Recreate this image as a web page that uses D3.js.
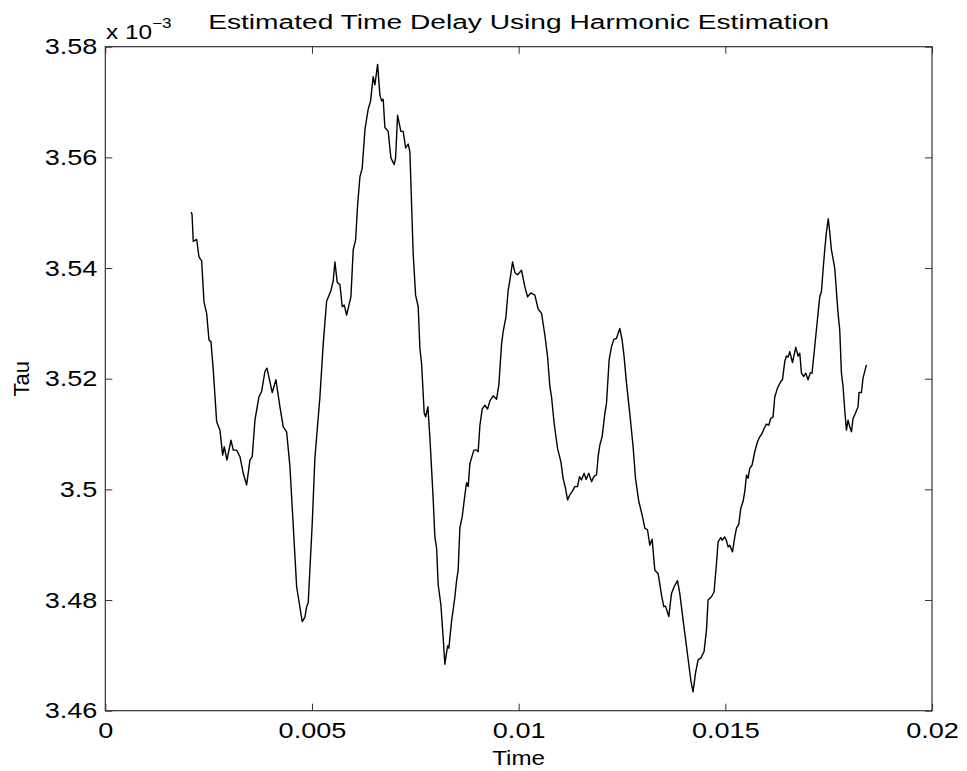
<!DOCTYPE html>
<html>
<head>
<meta charset="utf-8">
<script src="https://cdn.jsdelivr.net/npm/d3@7"></script>
<style>
  body { margin: 0; background: #fff; }
  svg text { font-family: "Liberation Sans", Arial, Helvetica, sans-serif; fill: #000; }
</style>
</head>
<body>
<svg id="chart"></svg>
<script>
// time (s)
const time = [
  0.002073, 0.002097, 0.002109, 0.002128, 0.002210, 0.002266, 0.002331, 0.002387, 0.002452, 0.002508,
  0.002556, 0.002612, 0.002694, 0.002774, 0.002839, 0.002878, 0.002943, 0.003040, 0.003096, 0.003178,
  0.003258, 0.003337, 0.003420, 0.003499, 0.003555, 0.003620, 0.003717, 0.003782, 0.003862, 0.003911,
  0.004039, 0.004128, 0.004225, 0.004305, 0.004387, 0.004467, 0.004629, 0.004764, 0.004830, 0.004871,
  0.004909, 0.005006, 0.005071, 0.005192, 0.005272, 0.005354, 0.005458, 0.005514, 0.005555, 0.005611,
  0.005676, 0.005732, 0.005780, 0.005838, 0.005942, 0.005998, 0.006056, 0.006104, 0.006160, 0.006215,
  0.006281, 0.006360, 0.006418, 0.006481, 0.006522, 0.006588, 0.006643, 0.006684, 0.006723, 0.006764,
  0.006844, 0.006909, 0.006989, 0.007023, 0.007071, 0.007151, 0.007207, 0.007265, 0.007328, 0.007369,
  0.007410, 0.007449, 0.007507, 0.007570, 0.007611, 0.007652, 0.007715, 0.007749, 0.007804, 0.007853,
  0.007932, 0.007973, 0.008015, 0.008053, 0.008119, 0.008174, 0.008215, 0.008281, 0.008312, 0.008377,
  0.008457, 0.008498, 0.008537, 0.008578, 0.008634, 0.008699, 0.008740, 0.008779, 0.008820, 0.008861,
  0.008917, 0.008982, 0.009021, 0.009062, 0.009117, 0.009183, 0.009248, 0.009304, 0.009383, 0.009466,
  0.009521, 0.009587, 0.009625, 0.009691, 0.009746, 0.009794, 0.009853, 0.009908, 0.009973, 0.010070,
  0.010150, 0.010215, 0.010295, 0.010392, 0.010472, 0.010554, 0.010634, 0.010699, 0.010755, 0.010796,
  0.010859, 0.010941, 0.011021, 0.011076, 0.011134, 0.011183, 0.011238, 0.011294, 0.011359, 0.011424,
  0.011473, 0.011521, 0.011584, 0.011632, 0.011698, 0.011763, 0.011826, 0.011884, 0.011923, 0.011964,
  0.012019, 0.012085, 0.012126, 0.012189, 0.012247, 0.012302, 0.012368, 0.012447, 0.012503, 0.012551,
  0.012609, 0.012689, 0.012769, 0.012827, 0.012907, 0.012987, 0.013052, 0.013117, 0.013173, 0.013229,
  0.013294, 0.013374, 0.013456, 0.013512, 0.013553, 0.013632, 0.013698, 0.013761, 0.013843, 0.013898,
  0.013978, 0.014061, 0.014165, 0.014220, 0.014278, 0.014341, 0.014406, 0.014486, 0.014544, 0.014583,
  0.014665, 0.014728, 0.014786, 0.014825, 0.014890, 0.014921, 0.014987, 0.015028, 0.015067, 0.015108,
  0.015173, 0.015229, 0.015270, 0.015325, 0.015374, 0.015429, 0.015470, 0.015512, 0.015550, 0.015591,
  0.015647, 0.015712, 0.015778, 0.015833, 0.015889, 0.015937, 0.015995, 0.016051, 0.016099, 0.016155,
  0.016196, 0.016261, 0.016341, 0.016382, 0.016438, 0.016479, 0.016518, 0.016559, 0.016624, 0.016704,
  0.016759, 0.016801, 0.016842, 0.016897, 0.016946, 0.017001, 0.017059, 0.017098, 0.017163, 0.017219,
  0.017284, 0.017325, 0.017364, 0.017405, 0.017446, 0.017490, 0.017526, 0.017567, 0.017647, 0.017727,
  0.017768, 0.017809, 0.017848, 0.017889, 0.017930, 0.017969, 0.018010, 0.018051, 0.018090, 0.018155,
  0.018210, 0.018235, 0.018293, 0.018331, 0.018414
]

// Tau (x 10^-3)
const tau = [
  3.5501, 3.5498, 3.5480, 3.5448, 3.5452, 3.5420, 3.5413, 3.5339, 3.5318, 3.5270,
  3.5267, 3.5216, 3.5122, 3.5107, 3.5062, 3.5077, 3.5053, 3.5089, 3.5071, 3.5071,
  3.5059, 3.5029, 3.5008, 3.5053, 3.5059, 3.5125, 3.5167, 3.5177, 3.5213, 3.5219,
  3.5175, 3.5198, 3.5149, 3.5113, 3.5104, 3.5041, 3.4824, 3.4761, 3.4769, 3.4788,
  3.4795, 3.4938, 3.5057, 3.5167, 3.5263, 3.5340, 3.5359, 3.5377, 3.5411, 3.5374,
  3.5370, 3.5330, 3.5333, 3.5315, 3.5348, 3.5433, 3.5451, 3.5514, 3.5565, 3.5580,
  3.5650, 3.5687, 3.5702, 3.5746, 3.5731, 3.5768, 3.5713, 3.5702, 3.5705, 3.5654,
  3.5647, 3.5599, 3.5587, 3.5599, 3.5676, 3.5647, 3.5647, 3.5617, 3.5624, 3.5610,
  3.5514, 3.5425, 3.5351, 3.5330, 3.5255, 3.5227, 3.5138, 3.5131, 3.5149, 3.5093,
  3.4983, 3.4914, 3.4894, 3.4828, 3.4791, 3.4732, 3.4684, 3.4717, 3.4713, 3.4762,
  3.4805, 3.4835, 3.4854, 3.4931, 3.4950, 3.4990, 3.5012, 3.5005, 3.5046, 3.5057,
  3.5071, 3.5071, 3.5068, 3.5115, 3.5145, 3.5152, 3.5145, 3.5160, 3.5169, 3.5163,
  3.5189, 3.5263, 3.5285, 3.5311, 3.5359, 3.5381, 3.5411, 3.5392, 3.5388, 3.5396,
  3.5366, 3.5348, 3.5355, 3.5351, 3.5326, 3.5318, 3.5279, 3.5240, 3.5186, 3.5167,
  3.5119, 3.5074, 3.5050, 3.5020, 3.5002, 3.4981, 3.4990, 3.4996, 3.5005, 3.5005,
  3.5023, 3.5017, 3.5029, 3.5018, 3.5029, 3.5014, 3.5024, 3.5026, 3.5059, 3.5080,
  3.5095, 3.5137, 3.5156, 3.5234, 3.5258, 3.5271, 3.5273, 3.5291, 3.5270, 3.5240,
  3.5192, 3.5137, 3.5077, 3.5020, 3.4978, 3.4954, 3.4930, 3.4927, 3.4899, 3.4910,
  3.4854, 3.4848, 3.4809, 3.4788, 3.4789, 3.4770, 3.4812, 3.4824, 3.4835, 3.4812,
  3.4764, 3.4716, 3.4655, 3.4634, 3.4668, 3.4692, 3.4695, 3.4707, 3.4746, 3.4800,
  3.4806, 3.4815, 3.4866, 3.4905, 3.4913, 3.4908, 3.4914, 3.4907, 3.4896, 3.4899,
  3.4887, 3.4914, 3.4930, 3.4937, 3.4966, 3.4978, 3.4996, 3.5026, 3.5020, 3.5038,
  3.5044, 3.5068, 3.5086, 3.5095, 3.5101, 3.5110, 3.5118, 3.5116, 3.5128, 3.5131,
  3.5167, 3.5183, 3.5195, 3.5198, 3.5231, 3.5241, 3.5239, 3.5249, 3.5229, 3.5257,
  3.5241, 3.5246, 3.5210, 3.5204, 3.5210, 3.5198, 3.5211, 3.5210, 3.5258, 3.5300,
  3.5348, 3.5357, 3.5396, 3.5433, 3.5465, 3.5489, 3.5465, 3.5433, 3.5400, 3.5318,
  3.5288, 3.5210, 3.5186, 3.5143, 3.5107, 3.5125, 3.5113, 3.5104, 3.5128, 3.5139,
  3.5149, 3.5175, 3.5175, 3.5201, 3.5225
]

const xTicks = [0, 0.005, 0.01, 0.015, 0.02]
const yTicks = [3.46, 3.48, 3.50, 3.52, 3.54, 3.56, 3.58]

const width = 967, height = 771
const margin = {top: 46.7, right: 35, bottom: 60.3, left: 105.3}
const stretchX = 1.23   // the glyphs in the picture are wider than normal

var svg = d3.select("#chart")
    .attr("width", width)
    .attr("height", height)

var x = d3.scaleLinear()
    .domain([0, 0.02])
    .range([margin.left, width - margin.right])

var y = d3.scaleLinear()
    .domain([3.46, 3.58])
    .range([height - margin.bottom, margin.top])

// widen text horizontally
function stretch(sel, k) {
    sel.each(function() {
        var w = this.getComputedTextLength()
        d3.select(this).attr("textLength", w * k).attr("lengthAdjust", "spacingAndGlyphs")
    })
}

// curve
var data = d3.range(Math.min(time.length, tau.length)).map((i) => ({t: time[i], v: tau[i]}))

var line = d3.line()
    .x((d) => x(d.t))
    .y((d) => y(d.v))

svg.append("path")
    .datum(data)
    .attr("fill", "none")
    .attr("stroke", "#000")
    .attr("stroke-width", 1.4)
    .attr("stroke-linejoin", "round")
    .attr("d", line)

// axes, ticks pointing inwards
const tickLen = 7
var fmt = (d) => String(+d.toFixed(3))

var xAxis = svg.append("g")
    .attr("transform", "translate(0," + (height - margin.bottom) + ")")
    .call(d3.axisBottom(x).tickValues(xTicks).tickSize(-tickLen).tickSizeOuter(0).tickPadding(12).tickFormat(fmt))

var yAxis = svg.append("g")
    .attr("transform", "translate(" + margin.left + ",0)")
    .call(d3.axisLeft(y).tickValues(yTicks).tickSize(-tickLen).tickSizeOuter(0).tickPadding(8).tickFormat(fmt))

svg.append("g")
    .attr("transform", "translate(0," + margin.top + ")")
    .call(d3.axisTop(x).tickValues(xTicks).tickSize(-tickLen).tickSizeOuter(0).tickFormat(""))

svg.append("g")
    .attr("transform", "translate(" + (width - margin.right) + ",0)")
    .call(d3.axisRight(y).tickValues(yTicks).tickSize(-tickLen).tickSizeOuter(0).tickFormat(""))

svg.selectAll(".domain").remove()
svg.selectAll(".tick line").attr("stroke", "#333").attr("stroke-width", 1)

svg.selectAll(".tick text")
    .style("font-size", "22px")
    .style("font-family", "'Liberation Sans', Arial, sans-serif")
    .attr("fill", "#000")
stretch(xAxis.selectAll(".tick text"), stretchX)
stretch(yAxis.selectAll(".tick text"), stretchX)

// frame
svg.append("rect")
    .attr("x", margin.left)
    .attr("y", margin.top)
    .attr("width", width - margin.left - margin.right)
    .attr("height", height - margin.top - margin.bottom)
    .attr("fill", "none")
    .attr("stroke", "#333")
    .attr("stroke-width", 1.2)

// title
svg.append("text")
    .attr("x", (margin.left + width - margin.right) / 2)
    .attr("y", 28.5)
    .attr("text-anchor", "middle")
    .style("font-size", "20px")
    .attr("textLength", 621)
    .attr("lengthAdjust", "spacingAndGlyphs")
    .text("Estimated Time Delay Using Harmonic Estimation")

// exponent label
var expo = svg.append("text")
    .attr("x", 106)
    .attr("y", 38.5)
    .style("font-size", "20px")
expo.append("tspan").text("x 10")
expo.append("tspan")
    .attr("dy", -11)
    .style("font-size", "14px")
    .text("\u22123")
stretch(expo, 1.22)

// axis labels
var xLabel = svg.append("text")
    .attr("x", (margin.left + width - margin.right) / 2)
    .attr("y", 765)
    .attr("text-anchor", "middle")
    .style("font-size", "21px")
    .text("Time")
stretch(xLabel, 1.15)

svg.append("text")
    .attr("transform", "translate(29," + ((margin.top + height - margin.bottom) / 2) + ") rotate(-90)")
    .attr("text-anchor", "middle")
    .style("font-size", "22px")
    .text("Tau")
</script>
</body>
</html>
